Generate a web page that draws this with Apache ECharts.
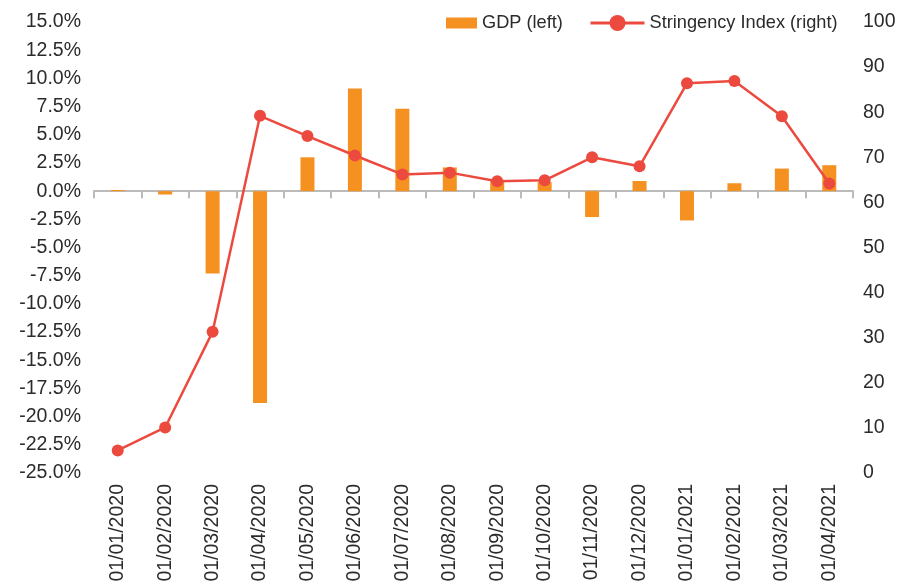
<!DOCTYPE html>
<html>
<head>
<meta charset="utf-8">
<script src="https://cdn.jsdelivr.net/npm/echarts@6/dist/echarts.min.js"></script>
<style>
    html, body { margin: 0; padding: 0; background: #fff; }
    #chart { width: 899px; height: 585px; }
</style>
</head>
<body>
<div id="chart"></div>
<script>
// months on the category axis
const months = [
    '01/01/2020', '01/02/2020', '01/03/2020', '01/04/2020', '01/05/2020', '01/06/2020',
    '01/07/2020', '01/08/2020', '01/09/2020', '01/10/2020', '01/11/2020', '01/12/2020',
    '01/01/2021', '01/02/2021', '01/03/2021', '01/04/2021'
];
// GDP growth, % (left axis)
const gdp = [0.1, -0.3, -7.3, -18.8, 3.0, 9.1, 7.3, 2.1, 1.0, 0.8, -2.3, 0.9, -2.6, 0.7, 2.0, 2.3];
// Stringency index (right axis)
const stringency = [5.0, 10.1, 31.3, 79.2, 74.7, 70.4, 66.2, 66.6, 64.7, 64.9, 70.0, 68.0, 86.4, 86.9, 79.1, 64.2];

const font = '"Liberation Sans", Helvetica, Arial, sans-serif';
const textColor = '#2b2b2b';
const orange = '#F59120';
const red = '#EC4A3F';

const chart = echarts.init(document.getElementById('chart'));
chart.setOption({
    animation: false,
    textStyle: { fontFamily: font },
    legend: [
        {
            left: 441, top: 9,
            icon: 'rect',
            itemWidth: 31, itemHeight: 11, itemGap: 8,
            textStyle: { fontSize: 18.2, color: textColor, fontFamily: font },
            data: ['GDP (left)']
        },
        {
            left: 584, top: 9,
            itemWidth: 54, itemHeight: 20, itemGap: 6,
            lineStyle: { width: 3 },
            textStyle: { fontSize: 18.2, color: textColor, fontFamily: font },
            data: ['Stringency Index (right)']
        }
    ],
    grid: { left: 94, right: 46, top: 22, bottom: 112 },
    xAxis: [
        {
            type: 'category',
            data: months,
            position: 'bottom',
            axisLine: { onZero: true, onZeroAxisIndex: 0, lineStyle: { color: '#bbbbbb', width: 2 } },
            axisTick: { show: true, interval: 0, length: 7, lineStyle: { color: '#bbbbbb', width: 2 } },
            axisLabel: { show: false }
        },
        {
            type: 'category',
            data: months,
            position: 'bottom',
            axisLine: { show: false, onZero: false },
            axisTick: { show: false },
            axisLabel: { interval: 0, rotate: 90, margin: 11, fontSize: 19.5, color: textColor, fontFamily: font }
        }
    ],
    yAxis: [
        {
            type: 'value',
            min: -25, max: 15, interval: 2.5,
            splitLine: { show: false },
            axisLine: { show: false },
            axisLabel: {
                fontSize: 19.5, color: textColor, margin: 13, fontFamily: font,
                formatter: v => v.toFixed(1) + '%'
            }
        },
        {
            type: 'value',
            min: 0, max: 100, interval: 10,
            splitLine: { show: false },
            axisLine: { show: false },
            axisLabel: { fontSize: 19.5, color: textColor, margin: 10, fontFamily: font }
        }
    ],
    series: [
        {
            name: 'GDP (left)',
            type: 'bar',
            data: gdp,
            xAxisIndex: 0,
            yAxisIndex: 0,
            barWidth: 14,
            itemStyle: { color: orange }
        },
        {
            name: 'Stringency Index (right)',
            type: 'line',
            data: stringency,
            xAxisIndex: 0,
            yAxisIndex: 1,
            symbol: 'circle',
            symbolSize: 12,
            lineStyle: { color: red, width: 2.5 },
            itemStyle: { color: red }
        }
    ]
});
</script>
</body>
</html>
